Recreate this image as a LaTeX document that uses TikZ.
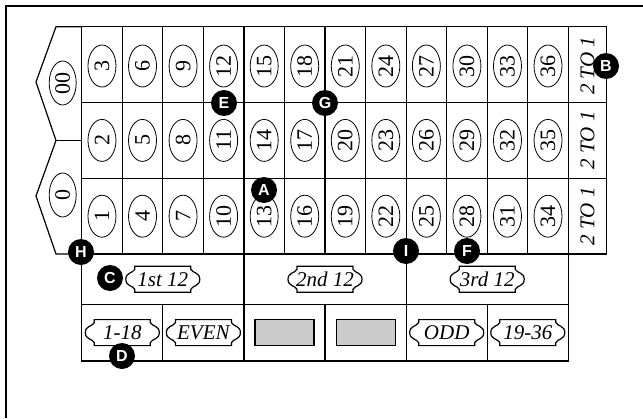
\documentclass[tikz,border=0pt]{standalone}
\usepackage{fontspec}
\setmainfont{Liberation Serif}
\newfontfamily\badgefont{Liberation Sans}
\usetikzlibrary{shapes.geometric}
\definecolor{cellgray}{RGB}{204,204,204}
\newcommand\tkt[3]{%
  \node[lbl] (#1) at #2 {#3};
  \draw[lblline, shift={#2}] (-28,-13) -- (28,-13) -- (28,-10)
    .. controls (30,-6) and (37,-7) .. (37,0)
    .. controls (37,7) and (30,6) .. (28,10) -- (28,13) -- (-28,13) -- (-28,10)
    .. controls (-30,6) and (-37,7) .. (-37,0)
    .. controls (-37,-7) and (-30,-6) .. (-28,-10) -- cycle;
}
\begin{document}
\begin{tikzpicture}[x=1pt,y=-1pt,
  grid/.style={line width=1.2pt, line join=miter},
  num/.style={draw, ellipse, line width=0.8pt, minimum width=42pt, minimum height=28pt,
    inner sep=0pt, rotate=90, font=\fontsize{22}{22}\selectfont},
  tto/.style={rotate=90, inner sep=0pt, font=\fontsize{21}{21}\selectfont\itshape},
  badge/.style={circle, fill=black, text=white, minimum size=26pt, inner sep=0pt,
    font=\badgefont\bfseries\fontsize{16}{16}\selectfont},
  lbl/.style={inner sep=0pt, font=\fontsize{21}{21}\selectfont\itshape},
  lblline/.style={line width=1.2pt, line join=miter},
  grayrect/.style={draw, fill=cellgray, line width=1.2pt, minimum width=59pt, minimum height=26pt, inner sep=0pt}]
\useasboundingbox (0,0) rectangle (643,418);
% outer frame (right and bottom sides outside the picture)
\draw[line width=2pt] (643,6) -- (6,6) -- (6,418);
% number grid
\draw[grid] (81.7,26.7) rectangle (606.7,254);
\foreach \k in {1,...,12} \draw[grid] (81.7+\k*40.55,26.7) -- (81.7+\k*40.55,254);
\draw[grid] (81.7,102.5) -- (606.7,102.5);
\draw[grid] (81.7,178.3) -- (606.7,178.3);
% zeros
\draw[grid] (81.7,26.7) -- (56,26.7) -- (36,82) -- (56,140.5) -- (36,196) -- (56,254) -- (81.7,254);
\draw[grid] (56,140.5) -- (81.7,140.5);
\node[num, minimum width=44pt, minimum height=27pt] (n00) at (62.7,83) {00};
\node[num, minimum width=44pt, minimum height=27pt] (n0) at (62.7,195) {0};
% numbers
\foreach \k in {0,...,11} \foreach \r/\yy in {0/66,1/140.4,2/216.2} {
  \pgfmathtruncatemacro\nn{3*\k+3-\r}
  \node[num] (n\nn) at (81.7+\k*40.55+20.275,\yy) {\nn};
}
% 2 to 1
\node[tto] (t1) at (587.5,66) {2 TO 1};
\node[tto] (t2) at (587.5,140.4) {2 TO 1};
\node[tto] (t3) at (587.5,216.2) {2 TO 1};
% outside bets
\draw[grid] (81.7,254) -- (81.7,361) -- (568.3,361) -- (568.3,254);
\draw[grid] (81.7,304.3) -- (568.3,304.3);
\draw[grid] (243.9,254) -- (243.9,361);
\draw[grid] (406.1,254) -- (406.1,361);
\foreach \xx in {162.8,325.0,487.2} \draw[grid] (\xx,304.3) -- (\xx,361);
\tkt{d1}{(162.8,279.3)}{1st 12}
\tkt{d2}{(325.0,279.3)}{2nd 12}
\tkt{d3}{(487.2,279.3)}{3rd 12}
\tkt{low}{(122.3,332.6)}{1-18}
\tkt{even}{(203.4,332.6)}{EVEN}
\node[grayrect] (red) at (284.5,332.6) {};
\node[grayrect] (black) at (365.6,332.6) {};
\tkt{odd}{(446.7,332.6)}{ODD}
\tkt{high}{(527.8,332.6)}{19-36}
% badges
\node[badge] (A) at (264,190) {A};
\node[badge] (B) at (606,66) {B};
\node[badge] (C) at (110,278) {C};
\node[badge] (D) at (122,356) {D};
\node[badge] (E) at (224,103) {E};
\node[badge] (F) at (467,251) {F};
\node[badge] (G) at (325,103) {G};
\node[badge] (H) at (81,252) {H};
\node[badge] (I) at (406,251) {I};
\end{tikzpicture}
\end{document}
